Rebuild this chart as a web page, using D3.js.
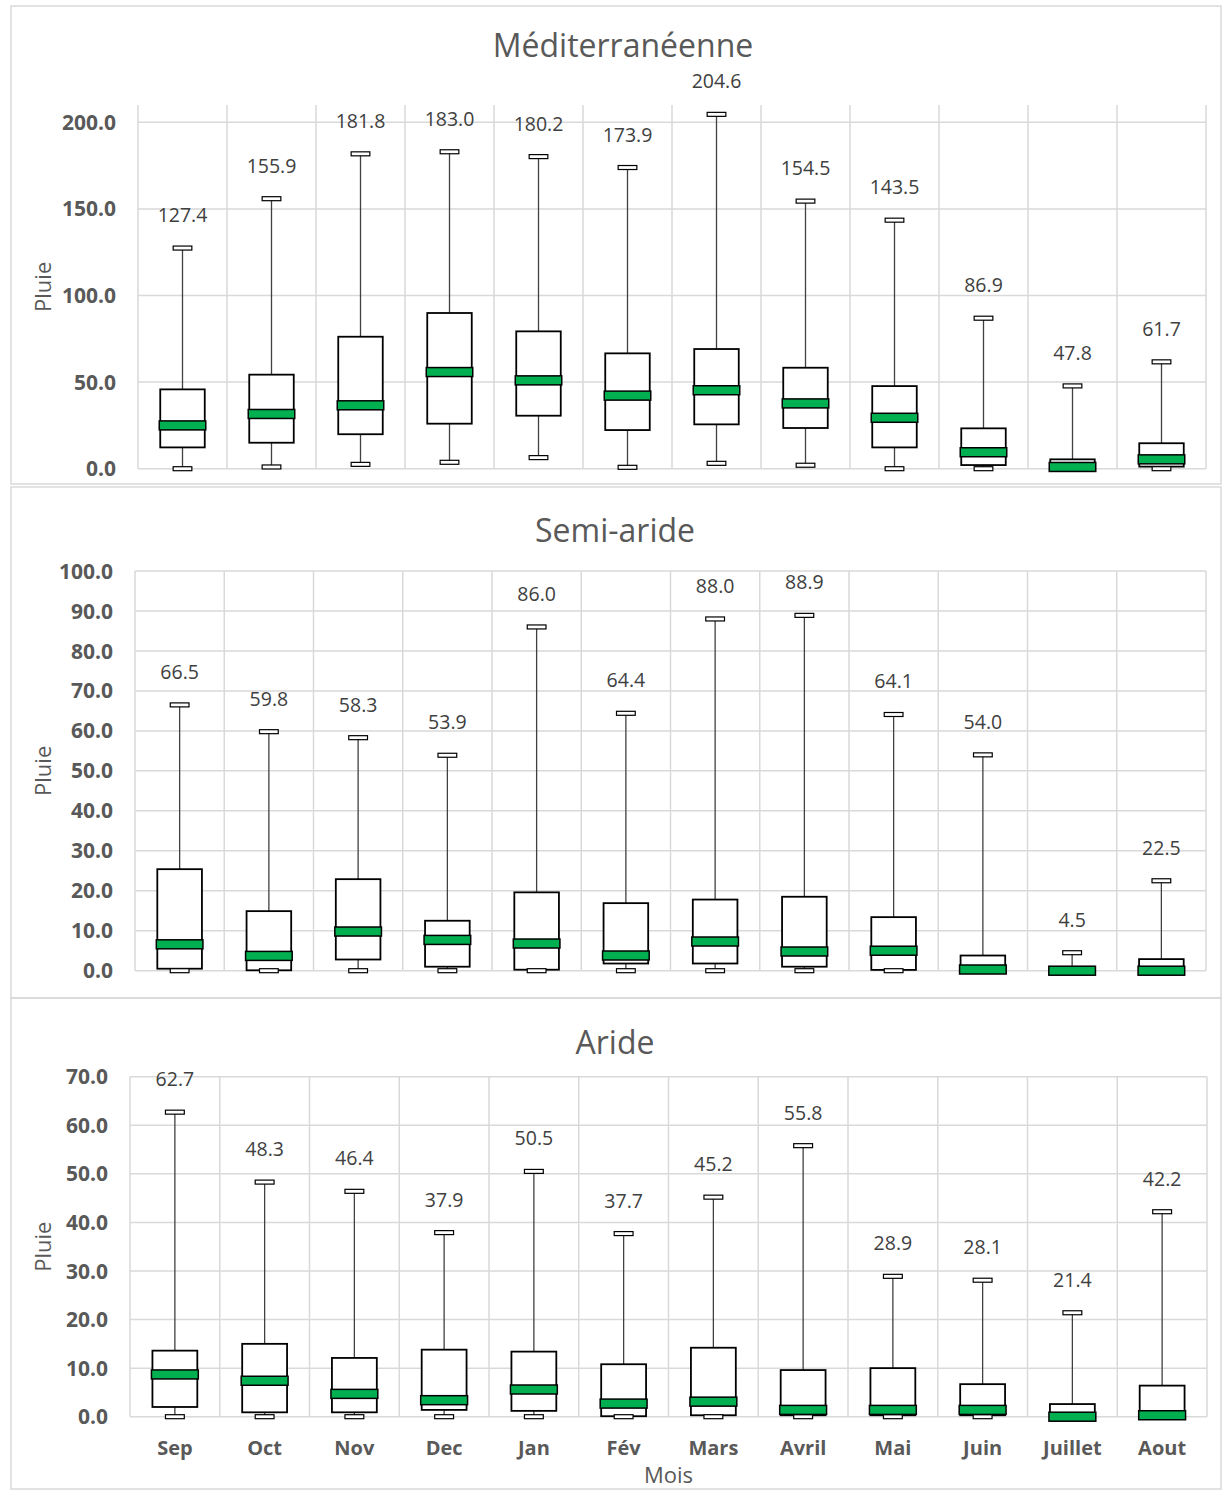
<!DOCTYPE html>
<html>
<head>
<meta charset="utf-8">
<script src="https://cdn.jsdelivr.net/npm/d3@7"></script>
<style>
  body { margin: 0; background: #ffffff; }
  text { font-family: "Open Sans", sans-serif; }
</style>
</head>
<body>
<svg id="vis"></svg>
<script>
/**
 * Monthly rainfall box plots for three climate zones
 */
const months = ["Sep", "Oct", "Nov", "Dec", "Jan", "Fév", "Mars", "Avril", "Mai", "Juin", "Juillet", "Aout"];

// Méditerranéenne
const medMin    = [0.0, 1.0, 2.5, 3.7, 6.4, 0.8, 3.1, 2.0, 0.0, 0.0, 0.0, 0.0];
const medQ1     = [12.3, 15.0, 19.9, 26.0, 30.6, 22.3, 25.6, 23.5, 12.3, 2.1, 0.0, 1.2];
const medMedian = [25.0, 31.6, 36.6, 55.8, 51.0, 42.2, 45.3, 37.7, 29.4, 9.5, 1.0, 5.4];
const medQ3     = [45.8, 54.3, 76.2, 89.9, 79.3, 66.6, 69.1, 58.3, 47.7, 23.3, 5.4, 14.7];
const medMax    = [127.4, 155.9, 181.8, 183.0, 180.2, 173.9, 204.6, 154.5, 143.5, 86.9, 47.8, 61.7];
const medTicks  = [0, 50, 100, 150, 200];

// Semi-aride
const semiMin    = [0, 0, 0, 0, 0, 0, 0, 0, 0, 0, 0, 0];
const semiQ1     = [0.5, 0.1, 2.8, 1.0, 0.25, 1.8, 1.8, 1.0, 0.2, 0.0, 0.0, 0.0];
const semiMedian = [6.6, 3.7, 9.8, 7.7, 6.8, 3.8, 7.3, 4.8, 5.0, 0.3, 0.0, 0.0];
const semiQ3     = [25.4, 14.9, 22.9, 12.5, 19.6, 16.9, 17.8, 18.5, 13.4, 3.8, 0.8, 2.9];
const semiMax    = [66.5, 59.8, 58.3, 53.9, 86.0, 64.4, 88.0, 88.9, 64.1, 54.0, 4.5, 22.5];
const semiTicks  = [0, 10, 20, 30, 40, 50, 60, 70, 80, 90, 100];

// Aride
const aridMin    = [0, 0, 0, 0, 0, 0, 0, 0, 0, 0, 0, 0];
const aridQ1     = [2.0, 0.9, 0.9, 1.4, 1.2, 0.1, 0.3, 0.3, 0.3, 0.3, 0.0, 0.0];
const aridMedian = [8.7, 7.4, 4.7, 3.4, 5.6, 2.7, 3.1, 1.4, 1.4, 1.4, 0.0, 0.3];
const aridQ3     = [13.6, 15.0, 12.1, 13.8, 13.4, 10.8, 14.2, 9.6, 10.0, 6.7, 2.6, 6.4];
const aridMax    = [62.7, 48.3, 46.4, 37.9, 50.5, 37.7, 45.2, 55.8, 28.9, 28.1, 21.4, 42.2];
const aridTicks  = [0, 10, 20, 30, 40, 50, 60, 70];

const WIDTH = 1226, HEIGHT = 1490;
const GRID = "#d9d9d9";
const GREEN = "#00b050";

// panel frames (pixels)
const panels = [
    {title: "Méditerranéenne", titleX: 623, titleY: 57, top: 6, bottom: 484,
     left: 138, right: 1206, plotTop: 105, plotBottom: 468.7, yMax: 210,
     ticks: medTicks, min: medMin, q1: medQ1, med: medMedian, q3: medQ3, max: medMax},
    {title: "Semi-aride", titleX: 615, titleY: 542, top: 487, bottom: 998,
     left: 135, right: 1206, plotTop: 571, plotBottom: 970.7, yMax: 100,
     ticks: semiTicks, min: semiMin, q1: semiQ1, med: semiMedian, q3: semiQ3, max: semiMax},
    {title: "Aride", titleX: 615, titleY: 1054, top: 998, bottom: 1489,
     left: 130, right: 1207, plotTop: 1076.7, plotBottom: 1416.7, yMax: 70,
     ticks: aridTicks, min: aridMin, q1: aridQ1, med: aridMedian, q3: aridQ3, max: aridMax}
];

const svg = d3.select("#vis")
    .attr("width", WIDTH)
    .attr("height", HEIGHT);

svg.append("rect")
    .attr("width", WIDTH).attr("height", HEIGHT)
    .attr("fill", "#ffffff");

function drawPanel(p, isLast){
    // frame
    svg.append("rect")
        .attr("x", 11).attr("y", p.top)
        .attr("width", 1210).attr("height", p.bottom - p.top)
        .attr("fill", "none")
        .attr("stroke", GRID)
        .attr("stroke-width", 1.5);

    let x = d3.scaleBand()
        .domain(months)
        .range([p.left, p.right])
        .padding(0);

    let y = d3.scaleLinear()
        .domain([0, p.yMax])
        .range([p.plotBottom, p.plotTop]);

    let g = svg.append("g");

    // horizontal grid
    g.selectAll(".hgrid")
        .data(p.ticks)
        .enter().append("line")
        .attr("x1", p.left).attr("x2", p.right)
        .attr("y1", d => y(d)).attr("y2", d => y(d))
        .attr("stroke", GRID).attr("stroke-width", 1.5);

    // vertical grid at band edges
    let edges = months.map(m => x(m)).concat([p.right]);
    g.selectAll(".vgrid")
        .data(edges)
        .enter().append("line")
        .attr("x1", d => d).attr("x2", d => d)
        .attr("y1", p.plotTop).attr("y2", p.plotBottom)
        .attr("stroke", GRID).attr("stroke-width", 1.5);

    // y tick labels
    g.selectAll(".tick")
        .data(p.ticks)
        .enter().append("text")
        .attr("x", p.left - 22)
        .attr("y", d => y(d))
        .attr("dy", "0.36em")
        .attr("text-anchor", "end")
        .attr("font-size", 21)
        .attr("font-weight", "bold")
        .attr("fill", "#595959")
        .text(d => d3.format(".1f")(d));

    // axis title
    let midY = (p.plotTop + p.plotBottom) / 2;
    g.append("text")
        .attr("transform", "translate(51," + midY + ") rotate(-90)")
        .attr("text-anchor", "middle")
        .attr("font-size", 22)
        .attr("fill", "#595959")
        .text("Pluie");

    // panel title
    g.append("text")
        .attr("x", p.titleX).attr("y", p.titleY)
        .attr("text-anchor", "middle")
        .attr("font-size", 32)
        .attr("fill", "#595959")
        .text(p.title);

    let bw = x.bandwidth();
    let boxW = bw * 0.5;
    let capW = bw * 0.21;

    months.forEach(function(m, i){
        let cx = x(m) + bw / 2;

        // whiskers
        g.append("line")
            .attr("x1", cx).attr("x2", cx)
            .attr("y1", y(p.max[i])).attr("y2", y(p.q3[i]))
            .attr("stroke", "#404040").attr("stroke-width", 1.3);
        g.append("line")
            .attr("x1", cx).attr("x2", cx)
            .attr("y1", y(p.q1[i])).attr("y2", y(p.min[i]))
            .attr("stroke", "#404040").attr("stroke-width", 1.3);

        // box
        g.append("rect")
            .attr("x", cx - boxW / 2)
            .attr("y", y(p.q3[i]))
            .attr("width", boxW)
            .attr("height", Math.max(0, y(p.q1[i]) - y(p.q3[i])))
            .attr("fill", "#ffffff")
            .attr("stroke", "#000000")
            .attr("stroke-width", 1.8);

        // caps
        [p.max[i], p.min[i]].forEach(function(v){
            g.append("rect")
                .attr("x", cx - capW / 2)
                .attr("y", y(v) - 2)
                .attr("width", capW)
                .attr("height", 4)
                .attr("fill", "#ffffff")
                .attr("stroke", "#000000")
                .attr("stroke-width", 1.2);
        });

        // median band
        g.append("rect")
            .attr("x", cx - boxW / 2 - 1)
            .attr("y", y(p.med[i]) - 4.5)
            .attr("width", boxW + 2)
            .attr("height", 9)
            .attr("fill", GREEN)
            .attr("stroke", "#000000")
            .attr("stroke-width", 1.5);

        // max label
        g.append("text")
            .attr("x", cx)
            .attr("y", y(p.max[i]) - 26)
            .attr("text-anchor", "middle")
            .attr("font-size", 19.5)
            .attr("fill", "#404040")
            .text(d3.format(".1f")(p.max[i]));
    });

    if (isLast){
        g.selectAll(".month")
            .data(months)
            .enter().append("text")
            .attr("x", d => x(d) + bw / 2)
            .attr("y", 1455)
            .attr("text-anchor", "middle")
            .attr("font-size", 20)
            .attr("font-weight", "bold")
            .attr("fill", "#595959")
            .text(d => d);

        g.append("text")
            .attr("x", (p.left + p.right) / 2)
            .attr("y", 1483)
            .attr("text-anchor", "middle")
            .attr("font-size", 22)
            .attr("fill", "#595959")
            .text("Mois");
    }
}

panels.forEach(function(p, i){
    drawPanel(p, i === panels.length - 1);
});
</script>
</body>
</html>
